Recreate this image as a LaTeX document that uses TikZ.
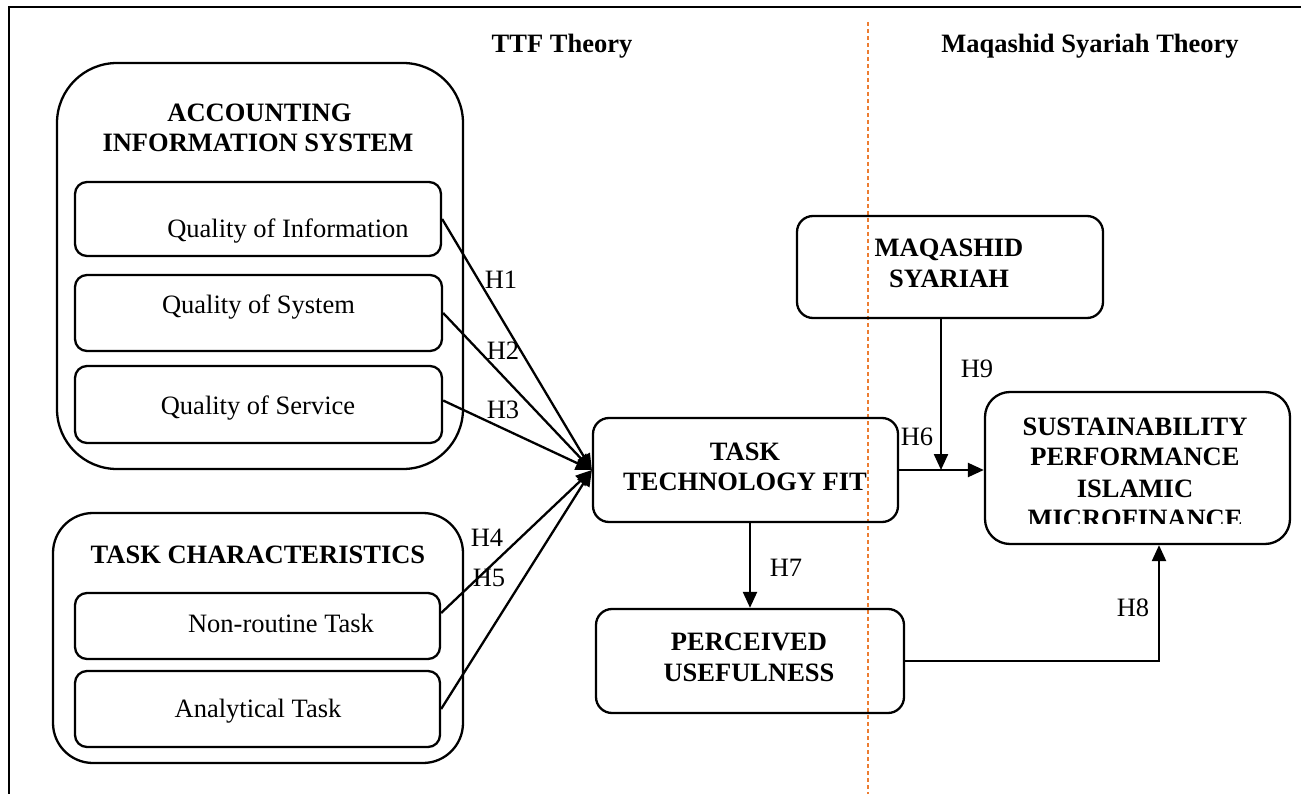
\documentclass[tikz,border=0pt]{standalone}
\usepackage{fontspec}
\setmainfont{Liberation Serif}
\usetikzlibrary{arrows.meta}
\definecolor{dashorange}{RGB}{237,125,49}
\tikzset{
  box/.style={draw, line width=2.3pt, rounded corners=#1, inner sep=0pt},
  box/.default=14pt,
  txt/.style={anchor=base, inner sep=0pt, font=\fontsize{26.5}{30}\selectfont},
  btxt/.style={anchor=base, inner sep=0pt, font=\fontsize{26.5}{30}\selectfont\bfseries},
  hlab/.style={inner sep=0pt, font=\fontsize{26.5}{30}\selectfont},
  conn/.style={line width=2.3pt, -{Triangle[length=16pt,width=14pt]}},
  frame/.style={line width=2.3pt},
  divider/.style={draw=dashorange, line width=1.3pt, dash pattern=on 4pt off 3pt}
}
\begin{document}
\begin{tikzpicture}[x=1pt,y=-1pt]
\useasboundingbox (0,0) rectangle (1301,794);
% frame
\draw[frame] (9,794) -- (9,7) -- (1301,7);
% divider
\draw[divider] (868,22) -- (868,794);
% section titles
\node[btxt] (ttftitle) at (562,53) {TTF Theory};
\node[btxt] (mstitle) at (1090,53) {Maqashid Syariah Theory};

% Accounting information system
\node[box=60pt, minimum width=406pt, minimum height=406pt] (ais) at (260,266) {};
\node[btxt] (ais1) at (259.5,122) {ACCOUNTING};
\node[btxt] (ais2) at (258,152) {INFORMATION SYSTEM};
\node[box=12pt, minimum width=366pt, minimum height=74pt] (qi) at (258,219) {};
\node[txt] (qit) at (288,238) {Quality of Information};
\node[box=12pt, minimum width=367pt, minimum height=76pt] (qsys) at (258.5,313) {};
\node[txt] (qsyst) at (258.5,313) {Quality of System};
\node[box=12pt, minimum width=367pt, minimum height=77pt] (qserv) at (258.5,404.5) {};
\node[txt] (qservt) at (258,414) {Quality of Service};

% Task characteristics
\node[box=40pt, minimum width=410pt, minimum height=250pt] (tc) at (258,638) {};
\node[btxt] (tct) at (258,563) {TASK CHARACTERISTICS};
\node[box=12pt, minimum width=365pt, minimum height=66pt] (nrt) at (257.5,626) {};
\node[txt] (nrtt) at (281,632) {Non-routine Task};
\node[box=12pt, minimum width=365pt, minimum height=76pt] (at) at (257.5,709) {};
\node[txt] (att) at (258,717) {Analytical Task};

% TTF
\node[box=16pt, minimum width=305pt, minimum height=104pt] (ttf) at (745.5,470) {};
\node[btxt] (ttf1) at (745,460) {TASK};
\node[btxt] (ttf2) at (745,490) {TECHNOLOGY FIT};

% Perceived usefulness
\node[box=16pt, minimum width=308pt, minimum height=104pt] (pu) at (750,661) {};
\node[btxt] (pu1) at (749,650) {PERCEIVED};
\node[btxt] (pu2) at (749,681) {USEFULNESS};

% Maqashid Syariah
\node[box=16pt, minimum width=306pt, minimum height=102pt] (ms) at (950,267) {};
\node[btxt] (ms1) at (949,257) {MAQASHID};
\node[btxt] (ms2) at (949,288) {SYARIAH};

% Sustainability performance
\node[box=25pt, minimum width=305pt, minimum height=152pt] (spim) at (1137.5,468) {};
\node[btxt] (sp1) at (1135,435) {SUSTAINABILITY};
\node[btxt] (sp2) at (1135,465) {PERFORMANCE};
\node[btxt] (sp3) at (1135,497) {ISLAMIC};
\begin{scope}
\clip (990,500) rectangle (1285,523);
\node[btxt] (sp4) at (1135,527) {MICROFINANCE};
\end{scope}

% connectors to TTF
\draw[conn] (qi.east) -- (ttf.west);
\draw[conn] (qsys.east) -- (ttf.west);
\draw[conn] ([yshift=4pt]qserv.east) -- (ttf.west);
\draw[conn] ([yshift=13pt]nrt.east) -- (ttf.west);
\draw[conn] (at.east) -- (ttf.west);
% H6
\draw[conn] (ttf.east) -- (spim.west |- ttf.east);
% H9
\coordinate (j9) at (941,470);
\draw[conn] ([xshift=-9pt]ms.south) -- (j9);
% H7
\draw[conn] (pu.north |- ttf.south) -- (pu.north);
% H8
\draw[conn] (pu.east) -| ([xshift=21.5pt]spim.south);

% hypothesis labels
\node[hlab] (h1) at (501,280) {H1};
\node[hlab] (h2) at (503,351) {H2};
\node[hlab] (h3) at (503,410) {H3};
\node[hlab] (h4) at (487,538) {H4};
\node[hlab] (h5) at (489,578) {H5};
\node[hlab] (h6) at (917,437) {H6};
\node[hlab] (h7) at (786,568) {H7};
\node[hlab] (h8) at (1133,608) {H8};
\node[hlab] (h9) at (977,369) {H9};
\end{tikzpicture}
\end{document}
